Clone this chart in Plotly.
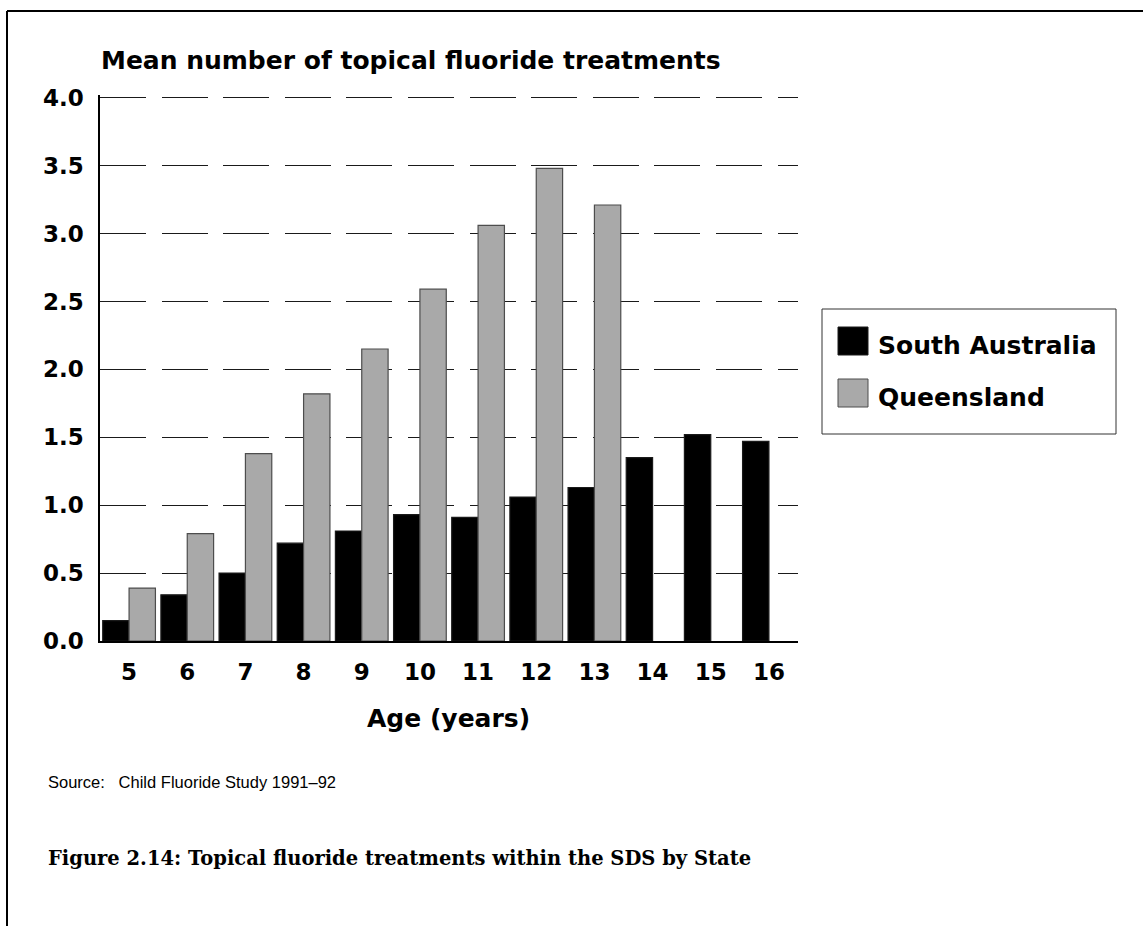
import plotly.graph_objects as go

ages = ["5", "6", "7", "8", "9", "10", "11", "12", "13", "14", "15", "16"]
south_australia = [0.15, 0.34, 0.50, 0.72, 0.81, 0.93, 0.91, 1.06, 1.13, 1.35, 1.52, 1.47]
queensland = [0.39, 0.79, 1.38, 1.82, 2.15, 2.59, 3.06, 3.48, 3.21, None, None, None]
y_ticks = [0.0, 0.5, 1.0, 1.5, 2.0, 2.5, 3.0, 3.5, 4.0]
series_names = ["South Australia", "Queensland"]
series_colors = ["#000000", "#a9a9a9"]
series_lines = ["#1a1a1a", "#4d4d4d"]

W, H = 1143, 926
L, R, T, B = 100, 345, 95, 285
PW, PH = W - L - R, H - T - B


def px(x):
    return (x - L) / PW


def py(y):
    return (H - B - y) / PH


SANS = "DejaVu Sans"

fig = go.Figure()
for name, vals, col, lc in zip(series_names, [south_australia, queensland], series_colors, series_lines):
    fig.add_trace(go.Bar(
        x=ages, y=vals, name=name,
        marker=dict(color=col, line=dict(color=lc, width=1.2)),
        showlegend=False,
    ))

fig.update_layout(
    width=W, height=H,
    margin=dict(l=L, r=R, t=T, b=B),
    paper_bgcolor="white", plot_bgcolor="white",
    barmode="group", bargap=0.094, bargroupgap=0,
    font=dict(family=SANS, color="black"),
)
fig.update_xaxes(
    type="category", showgrid=False, zeroline=False,
    showline=True, linecolor="black", linewidth=1.5,
    ticks="", ticklabelstandoff=10,
    tickfont=dict(family=SANS, size=23, weight="bold", color="black"),
)
fig.update_yaxes(
    range=[0, 4.02], tickvals=y_ticks, ticktext=[f"{v:.1f}" for v in y_ticks],
    showgrid=True, gridcolor="#1a1a1a", gridwidth=1, griddash="46px,15.6px",
    zeroline=False, showline=True, linecolor="black", linewidth=1.5,
    ticks="", ticklabelstandoff=10,
    tickfont=dict(family=SANS, size=23, weight="bold", color="black"),
)

ann = []
ann.append(dict(text="Mean number of topical fluoride treatments", xref="paper", yref="paper",
                x=px(99), y=py(60), xanchor="left", yanchor="middle", showarrow=False,
                font=dict(family=SANS, size=25, weight="bold", color="black")))
ann.append(dict(text="Age (years)", xref="paper", yref="paper",
                x=px(448), y=py(718), xanchor="center", yanchor="middle", showarrow=False,
                font=dict(family=SANS, size=25, weight="bold", color="black")))
ann.append(dict(text="Source:\u00a0\u00a0\u00a0Child Fluoride Study 1991\u201392", xref="paper", yref="paper",
                x=px(46), y=py(782), xanchor="left", yanchor="middle", showarrow=False,
                font=dict(family="Liberation Sans", size=16.5, color="black")))
ann.append(dict(text="Figure 2.14: Topical fluoride treatments within the SDS by State", xref="paper", yref="paper",
                x=px(46), y=py(858), xanchor="left", yanchor="middle", showarrow=False,
                font=dict(family="DejaVu Serif", size=19.5, weight="bold", color="black")))

shapes = []
# page frame
shapes.append(dict(type="line", xref="paper", yref="paper", x0=px(7), x1=px(1143), y0=py(11), y1=py(11),
                   line=dict(color="black", width=2)))
shapes.append(dict(type="line", xref="paper", yref="paper", x0=px(7), x1=px(7), y0=py(11), y1=py(926),
                   line=dict(color="black", width=2)))
# legend box
shapes.append(dict(type="rect", xref="paper", yref="paper", x0=px(822), x1=px(1116), y0=py(309), y1=py(434),
                   line=dict(color="#333333", width=1), fillcolor="white"))
leg_y = [341, 393]
for name, col, lc, cy in zip(series_names, series_colors, series_lines, leg_y):
    shapes.append(dict(type="rect", xref="paper", yref="paper", x0=px(838), x1=px(868),
                       y0=py(cy - 14), y1=py(cy + 14), line=dict(color=lc, width=1), fillcolor=col))
    ann.append(dict(text=name, xref="paper", yref="paper", x=px(876), y=py(cy + 4),
                    xanchor="left", yanchor="middle", showarrow=False,
                    font=dict(family=SANS, size=25, weight="bold", color="black")))

fig.update_layout(annotations=ann, shapes=shapes)

fig.write_html("out.html", config={"displayModeBar": False},
               post_script="document.body.style.margin='0';document.body.style.overflow='hidden';")
